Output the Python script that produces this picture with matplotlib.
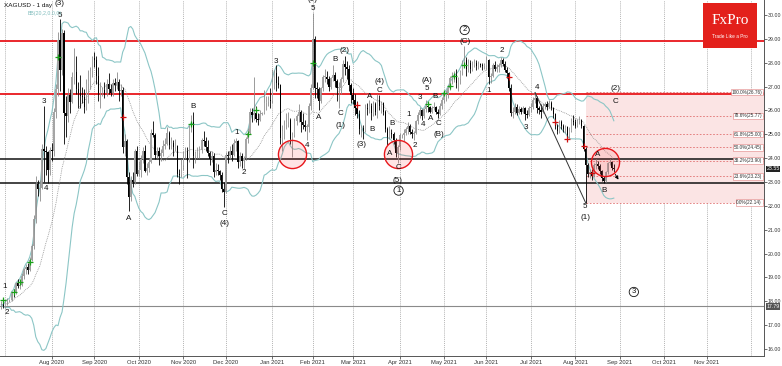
import numpy as np
import pandas as pd
import matplotlib
matplotlib.use("Agg")
import matplotlib.pyplot as plt
from matplotlib.patches import Rectangle

# ---------------- DATA (daily OHLC, XAGUSD) ----------------
jun_2020 = [(17.80, 18.00, 17.68, 17.85), (17.85, 18.10, 17.70, 17.80)]
jul_2020 = [
    (17.80, 18.05, 17.70, 17.95), (17.95, 18.15, 17.85, 18.02), (18.02, 18.10, 17.95, 18.05),
    (18.05, 18.45, 18.00, 18.40), (18.40, 18.50, 18.20, 18.35), (18.35, 18.80, 18.30, 18.75),
    (18.75, 18.95, 18.55, 18.62), (18.62, 18.82, 18.50, 18.70), (18.70, 19.20, 18.65, 19.05),
    (19.05, 19.40, 18.95, 19.35), (19.35, 19.55, 19.15, 19.45), (19.45, 19.60, 19.15, 19.30),
    (19.30, 19.85, 19.25, 19.75), (19.75, 20.40, 19.70, 20.30), (20.30, 21.60, 20.20, 21.45),
    (21.45, 23.25, 21.30, 22.90), (22.90, 23.10, 22.40, 22.70), (22.70, 23.10, 22.20, 22.75),
    (22.75, 24.60, 22.70, 24.40), (24.40, 26.20, 23.00, 24.30), (24.30, 24.50, 23.30, 24.25),
    (24.25, 24.30, 22.95, 23.50), (23.50, 24.45, 23.30, 24.35)]
aug_2020 = [
    (24.35, 24.65, 23.90, 24.30), (24.30, 26.10, 24.10, 25.95), (25.95, 27.10, 25.70, 26.90),
    (26.90, 29.30, 26.60, 28.95), (28.95, 29.85, 26.80, 27.70), (27.70, 29.40, 27.50, 29.25),
    (29.25, 29.35, 24.60, 25.90), (25.90, 26.60, 24.90, 25.75), (25.75, 26.95, 25.50, 26.65),
    (26.65, 26.90, 25.90, 26.35), (26.35, 27.60, 26.30, 27.40), (27.40, 28.60, 27.10, 27.60),
    (27.60, 28.30, 26.70, 26.90), (26.90, 27.20, 26.10, 26.75), (26.75, 27.50, 26.10, 26.60),
    (26.60, 27.00, 26.30, 26.55), (26.55, 26.90, 25.90, 26.15), (26.15, 27.30, 26.00, 27.10),
    (27.10, 27.70, 26.30, 27.25), (27.25, 27.80, 26.90, 27.65), (27.65, 28.30, 27.40, 28.20)]
sep_2020 = [
    (28.20, 28.45, 27.80, 28.10), (28.10, 28.30, 27.10, 27.45), (27.45, 27.80, 26.40, 26.75),
    (26.75, 27.20, 26.10, 26.75), (26.75, 27.00, 26.60, 26.85), (26.85, 27.20, 26.50, 26.75),
    (26.75, 27.30, 26.60, 27.10), (27.10, 27.55, 26.70, 26.90), (26.90, 27.10, 26.60, 26.75),
    (26.75, 27.30, 26.60, 27.15), (27.15, 27.35, 26.80, 27.05), (27.05, 27.60, 26.90, 27.20),
    (27.20, 27.30, 26.40, 26.80), (26.80, 27.10, 26.60, 26.85), (26.85, 27.00, 24.20, 24.45),
    (24.45, 25.00, 24.10, 24.70), (24.70, 24.80, 22.90, 23.20), (23.20, 23.40, 21.80, 22.35),
    (22.35, 23.25, 22.20, 23.10), (23.10, 23.40, 22.80, 23.00), (23.00, 24.40, 22.90, 24.30),
    (24.30, 24.50, 23.25, 23.35)]
oct_2020 = [
    (23.35, 23.90, 23.25, 23.50), (23.50, 24.15, 23.20, 23.95), (23.95, 24.45, 23.80, 24.30),
    (24.30, 24.55, 23.40, 23.45), (23.45, 23.80, 23.30, 23.60), (23.60, 24.00, 23.40, 23.85),
    (23.85, 25.20, 23.80, 25.05), (25.05, 25.55, 24.90, 24.95), (24.95, 25.05, 23.95, 24.15),
    (24.15, 24.45, 24.00, 24.30), (24.30, 24.45, 23.70, 24.10), (24.10, 24.40, 23.90, 24.20),
    (24.20, 24.75, 24.10, 24.50), (24.50, 24.85, 24.40, 24.60), (24.60, 25.30, 24.55, 25.05),
    (25.05, 25.15, 24.40, 24.55), (24.55, 24.90, 24.40, 24.65), (24.65, 24.75, 24.10, 24.45),
    (24.45, 24.80, 24.30, 24.50), (24.50, 24.55, 23.20, 23.35), (23.35, 23.55, 22.90, 23.30),
    (23.30, 23.95, 23.20, 23.70)]
nov_2020 = [
    (23.70, 24.30, 23.50, 24.05), (24.05, 24.45, 23.95, 24.30), (24.30, 24.45, 23.15, 23.90),
    (23.90, 25.40, 23.85, 25.25), (25.25, 25.80, 25.10, 25.50), (25.50, 25.95, 23.60, 24.10),
    (24.10, 24.30, 23.80, 24.20), (24.20, 24.45, 24.00, 24.20), (24.20, 24.50, 24.00, 24.35),
    (24.35, 24.85, 24.20, 24.75), (24.75, 25.15, 24.50, 24.70), (24.70, 24.90, 24.30, 24.45),
    (24.45, 24.75, 24.10, 24.20), (24.20, 24.30, 23.70, 23.95), (23.95, 24.30, 23.85, 24.10),
    (24.10, 24.20, 23.20, 23.40), (23.40, 23.80, 23.30, 23.50), (23.50, 23.75, 23.30, 23.45),
    (23.45, 23.50, 23.10, 23.30), (23.30, 23.40, 22.60, 22.70), (22.70, 23.00, 21.95, 22.60)]
dec_2020 = [
    (22.60, 24.25, 22.55, 24.15), (24.15, 24.30, 23.80, 24.10), (24.10, 24.50, 23.95, 24.30),
    (24.30, 24.60, 23.90, 24.15), (24.15, 24.80, 24.10, 24.65), (24.65, 24.85, 24.30, 24.70),
    (24.70, 24.75, 23.60, 23.85), (23.85, 24.25, 23.65, 24.10), (24.10, 24.20, 23.60, 23.90),
    (23.90, 24.10, 23.55, 24.00), (24.00, 24.90, 23.95, 24.80), (24.80, 25.25, 24.65, 25.05),
    (25.05, 26.10, 25.00, 25.95), (25.95, 26.10, 25.50, 25.80), (25.80, 27.40, 25.60, 25.90),
    (25.90, 26.20, 25.50, 25.65), (25.65, 25.90, 25.40, 25.60), (25.60, 26.00, 25.55, 25.85),
    (25.85, 25.95, 25.80, 25.90), (25.90, 26.85, 25.85, 26.30), (26.30, 26.60, 26.00, 26.35),
    (26.35, 26.60, 26.20, 26.45), (26.45, 26.95, 26.10, 26.40)]
jan_2021 = [
    (26.40, 27.75, 26.30, 27.20), (27.20, 27.70, 26.90, 27.55), (27.55, 27.90, 26.80, 27.15),
    (27.15, 27.45, 26.95, 27.05), (27.05, 27.10, 24.60, 24.85), (24.85, 25.40, 24.30, 25.15),
    (25.15, 25.60, 24.80, 25.40), (25.40, 25.90, 25.20, 25.50), (25.50, 25.95, 25.30, 25.60),
    (25.60, 25.70, 24.60, 24.80), (24.80, 25.10, 24.05, 24.95), (24.95, 25.70, 24.90, 25.55),
    (25.55, 25.85, 25.40, 25.75), (25.75, 26.25, 25.50, 25.95), (25.95, 26.00, 25.10, 25.50),
    (25.50, 25.90, 25.20, 25.40), (25.40, 25.60, 25.15, 25.30), (25.30, 25.45, 24.75, 25.30),
    (25.30, 26.30, 25.10, 26.20), (26.20, 27.10, 26.00, 26.95)]
feb_2021 = [
    (26.95, 30.07, 26.90, 29.00), (29.00, 29.10, 26.50, 26.95), (26.95, 27.20, 26.50, 26.90),
    (26.90, 27.00, 26.00, 26.40), (26.40, 27.00, 26.30, 26.95), (26.95, 27.50, 26.80, 27.40),
    (27.40, 27.75, 27.20, 27.40), (27.40, 27.65, 27.10, 27.30), (27.30, 27.45, 26.80, 27.00),
    (27.00, 27.40, 26.90, 27.35), (27.35, 27.90, 27.25, 27.50), (27.50, 27.60, 27.00, 27.25),
    (27.25, 27.30, 26.40, 26.95), (26.95, 27.20, 26.10, 26.95), (26.95, 27.40, 26.70, 27.30),
    (27.30, 28.10, 27.20, 27.95), (27.95, 28.30, 27.50, 27.80), (27.80, 28.05, 27.30, 27.75),
    (27.75, 27.90, 26.80, 27.05), (27.05, 27.15, 26.30, 26.65)]
mar_2021 = [
    (26.65, 26.95, 26.25, 26.45), (26.45, 26.70, 25.80, 26.10), (26.10, 26.40, 25.70, 25.85),
    (25.85, 26.00, 25.00, 25.20), (25.20, 25.40, 24.90, 25.25), (25.25, 25.40, 24.80, 25.15),
    (25.15, 26.25, 25.10, 26.10), (26.10, 26.30, 25.80, 26.05), (26.05, 26.45, 25.90, 26.20),
    (26.20, 26.30, 25.60, 25.90), (25.90, 26.40, 25.75, 26.25), (26.25, 26.35, 25.80, 25.95),
    (25.95, 26.70, 25.70, 26.45), (26.45, 26.65, 26.00, 26.20), (26.20, 26.40, 25.90, 26.30),
    (26.30, 26.35, 25.80, 25.95), (25.95, 26.00, 25.10, 25.20), (25.20, 25.30, 24.55, 24.90),
    (24.90, 25.35, 24.80, 25.05), (25.05, 25.20, 24.85, 25.00), (25.00, 25.10, 24.60, 24.75),
    (24.75, 24.85, 24.05, 24.20), (24.20, 24.55, 23.80, 24.45)]
apr_2021 = [
    (24.45, 25.05, 24.35, 24.95), (24.95, 25.00, 24.85, 24.95), (24.95, 25.20, 24.70, 25.05),
    (25.05, 25.30, 24.95, 25.20), (25.20, 25.50, 25.00, 25.35), (25.35, 25.45, 25.00, 25.10),
    (25.10, 25.20, 24.85, 25.00), (25.00, 25.15, 24.75, 25.05), (25.05, 25.60, 25.00, 25.55),
    (25.55, 25.95, 25.45, 25.80), (25.80, 26.15, 25.70, 26.00), (26.00, 26.05, 25.60, 25.75),
    (25.75, 26.10, 25.70, 26.05), (26.05, 26.45, 25.95, 26.20), (26.20, 26.30, 25.95, 26.15),
    (26.15, 26.20, 25.90, 25.95), (25.95, 26.20, 25.90, 26.10), (26.10, 26.35, 26.00, 26.15),
    (26.15, 26.20, 25.85, 25.95), (25.95, 26.05, 25.70, 25.85), (25.85, 26.30, 25.80, 26.20),
    (26.20, 26.55, 26.05, 26.45)]
may_2021 = [
    (26.45, 26.80, 26.30, 26.65), (26.65, 26.85, 26.40, 26.70), (26.70, 27.05, 26.50, 26.95),
    (26.95, 27.45, 26.85, 27.35), (27.35, 27.60, 27.10, 27.40), (27.40, 27.65, 27.20, 27.50),
    (27.50, 27.75, 26.95, 27.15), (27.15, 27.40, 26.80, 27.30), (27.30, 27.70, 27.10, 27.60),
    (27.60, 28.10, 27.50, 27.95), (27.95, 28.70, 27.80, 28.10), (28.10, 28.25, 27.45, 27.75),
    (27.75, 28.15, 27.60, 28.00), (28.00, 28.10, 27.55, 27.75), (27.75, 28.05, 27.65, 27.90),
    (27.90, 28.15, 27.80, 28.00), (28.00, 28.10, 27.70, 27.85), (27.85, 28.05, 27.75, 27.95),
    (27.95, 28.00, 27.80, 27.90), (27.90, 28.00, 27.70, 27.85), (27.85, 28.00, 27.75, 27.90)]
jun_2021 = [
    (27.90, 28.30, 27.75, 28.10), (28.10, 28.15, 27.10, 27.40), (27.40, 27.55, 27.15, 27.45),
    (27.45, 28.00, 27.40, 27.90), (27.90, 28.05, 27.65, 27.75), (27.75, 27.95, 27.60, 27.80),
    (27.80, 28.00, 27.60, 27.90), (27.90, 28.25, 27.80, 28.10), (28.10, 28.20, 27.85, 27.95),
    (27.95, 28.05, 27.60, 27.70), (27.70, 27.80, 27.35, 27.55), (27.55, 27.60, 26.80, 26.95),
    (26.95, 27.10, 25.75, 25.90), (25.90, 26.15, 25.70, 25.95), (25.95, 26.30, 25.85, 26.15),
    (26.15, 26.25, 25.80, 25.90), (25.90, 26.20, 25.85, 26.05), (26.05, 26.15, 25.85, 25.95),
    (25.95, 26.20, 25.90, 26.10), (26.10, 26.15, 25.60, 25.85), (25.85, 26.00, 25.70, 25.80),
    (25.80, 26.20, 25.75, 26.10)]
jul_2021 = [
    (26.10, 26.30, 25.95, 26.15), (26.15, 26.55, 26.05, 26.45), (26.45, 26.76, 26.30, 26.50),
    (26.50, 26.60, 25.90, 26.10), (26.10, 26.20, 25.85, 26.00), (26.00, 26.25, 25.70, 25.95),
    (25.95, 26.30, 25.90, 26.20), (26.20, 26.35, 26.05, 26.25), (26.25, 26.40, 26.00, 26.15),
    (26.15, 26.45, 26.10, 26.30), (26.30, 26.40, 26.00, 26.10), (26.10, 26.15, 25.70, 25.85),
    (25.85, 25.90, 25.20, 25.35), (25.35, 25.45, 25.00, 25.15), (25.15, 25.60, 25.05, 25.50),
    (25.50, 25.60, 25.20, 25.35), (25.35, 25.45, 25.10, 25.20), (25.20, 25.40, 25.05, 25.30),
    (25.30, 25.35, 24.75, 24.95), (24.95, 25.30, 24.85, 25.15), (25.15, 25.70, 25.10, 25.55),
    (25.55, 25.80, 25.40, 25.50)]
aug_2021 = [
    (25.50, 25.65, 25.25, 25.35), (25.35, 25.65, 25.30, 25.55), (25.55, 25.75, 25.45, 25.60),
    (25.60, 25.65, 25.25, 25.35), (25.35, 25.40, 24.30, 24.40), (24.40, 24.45, 22.14, 23.70),
    (23.70, 23.80, 23.20, 23.35), (23.35, 23.55, 23.15, 23.40), (23.40, 23.55, 23.10, 23.25),
    (23.25, 23.80, 23.20, 23.70), (23.70, 23.95, 23.55, 23.75), (23.75, 23.90, 23.55, 23.65),
    (23.65, 23.75, 23.35, 23.45), (23.45, 23.50, 23.05, 23.15), (23.15, 23.25, 22.95, 23.05),
    (23.05, 23.45, 23.00, 23.40), (23.40, 23.85, 23.35, 23.80), (23.80, 23.95, 23.70, 23.85),
    (23.85, 23.90, 23.50, 23.60), (23.60, 23.75, 23.40, 23.55)]

# horizontal levels
red_levels = [28.89, 26.67]
black_levels = [23.95, 22.97]
gray_level = 17.79
fib_start_bar = 289
fib_pcts = [100.0, 78.6, 61.8, 50.0, 38.2, 23.6, 0.0]
fib_prices = [26.76, 25.77, 25.00, 24.45, 23.90, 23.23, 22.14]

# signal markers (bar index, price)
green_idx = [1, 6, 9, 14, 28, 94, 122, 126, 154, 211, 219, 222, 224, 229]
green_px = [18.05, 18.39, 18.81, 19.65, 28.24, 25.43, 25.01, 26.02, 27.99, 26.27, 26.73, 27.02, 27.44, 27.90]
red_idx = [60, 176, 251, 274, 280, 288, 292]
red_px = [25.72, 26.23, 27.40, 25.51, 24.80, 24.51, 23.38]

# wave labels (text, bar index, price)
wave_labels = [
    ("1", 1.5, 18.64), ("2", 2.5, 17.55), ("3", 20.8, 26.39), ("4", 22.3, 22.71),
    ("5", 28.7, 29.97), ("(3)", 28.7, 30.47), ("A", 62.9, 21.45), ("B", 95.0, 26.18),
    ("C", 110.4, 21.70), ("(4)", 110.4, 21.28), ("1", 116.3, 25.09), ("2", 119.8, 23.38),
    ("3", 135.6, 28.07), ("4", 151.0, 24.51), ("(5)", 154.0, 30.66), ("5", 154.0, 30.27),
    ("A", 156.9, 25.72), ("B", 164.9, 28.15), ("(2)", 169.8, 28.49), ("C", 167.8, 25.85),
    ("(1)", 167.8, 25.35), ("(3)", 178.2, 24.59), ("A", 182.2, 26.60), ("B", 183.2, 25.22),
    ("(4)", 187.1, 27.23), ("C", 187.1, 26.85), ("B", 193.1, 25.47), ("A", 192.1, 24.21),
    ("C", 196.5, 23.59), ("(5)", 196.0, 23.08), ("1", 201.5, 25.81), ("2", 204.5, 24.51),
    ("3", 206.9, 26.52), ("4", 208.4, 25.39), ("5", 210.4, 26.90), ("(A)", 210.4, 27.27),
    ("A", 212.4, 25.68), ("B", 214.4, 26.60), ("C", 216.3, 25.47), ("(B)", 216.3, 25.01),
    ("(C)", 229.2, 28.87), ("1", 241.1, 26.85), ("2", 247.5, 28.53), ("3", 259.4, 25.30),
    ("4", 264.9, 26.98), ("(2)", 304.0, 26.92), ("C", 304.0, 26.39), ("A", 295.0, 24.17),
    ("B", 298.0, 22.66), ("5", 288.6, 21.99), ("(1)", 289.1, 21.53)]
circled_labels = [("1", 196.5, 22.64), ("2", 229.2, 29.37), ("3", 312.9, 18.39)]
circle_idx = [143.6, 196.0, 298.5]
circle_px = [24.17, 24.17, 23.84]
trend_idx = [264, 289]
trend_px = [26.75, 22.14]

# ---------------- BUILD ----------------
bars = (jun_2020 + jul_2020 + aug_2020 + sep_2020 + oct_2020 + nov_2020 + dec_2020 +
        jan_2021 + feb_2021 + mar_2021 + apr_2021 + may_2021 + jun_2021 + jul_2021 + aug_2021)
o = np.array([b[0] for b in bars]); h = np.array([b[1] for b in bars])
l = np.array([b[2] for b in bars]); c = np.array([b[3] for b in bars])
n = len(bars)
idx = np.arange(n)

dates = pd.bdate_range("2020-06-29", "2021-12-31")
dates = dates[dates != pd.Timestamp("2021-01-01")]

W, H = 782, 366
fig = plt.figure(figsize=(W / 100, H / 100), dpi=100)
ax = fig.add_axes([0, 10 / H, 764 / W, 356 / H])
XMIN, XMAX = -0.7, 377.3
YMIN, YMAX = 15.707, 30.627
ax.set_xlim(XMIN, XMAX)
ax.set_ylim(YMIN, YMAX)

LAB = ["Liberation Sans", "DejaVu Sans"]

# month grid
for k in range(1, len(dates)):
    if dates[k].month != dates[k - 1].month and k < XMAX:
        ax.axvline(k, color="#9a9a9a", lw=0.5, ls=(0, (1.5, 1.5)), zorder=0)
tick_pos, tick_lab = [], []
for k in range(1, len(dates)):
    if dates[k].month != dates[k - 1].month and pd.Timestamp("2020-08-01") <= dates[k] <= pd.Timestamp("2021-11-30"):
        tick_pos.append(k)
        tick_lab.append(dates[k].strftime("%b %Y"))
ax.set_xticks(tick_pos)
ax.set_xticklabels(tick_lab, fontsize=4.2, color="#333333", family=LAB)
ax.tick_params(axis="x", length=2, width=0.5, pad=1, colors="#333333")

# fib box
ax.add_patch(Rectangle((fib_start_bar, fib_prices[-1]), XMAX - fib_start_bar,
                       fib_prices[0] - fib_prices[-1], facecolor="#fbe4e4", edgecolor="none", zorder=0.5))
for pct, pr in zip(fib_pcts, fib_prices):
    ax.plot([fib_start_bar, XMAX], [pr, pr], color="#e07070", lw=0.6, ls=(0, (2, 2)), zorder=1)
    ax.text(XMAX - 1, pr, f"{pct:.1f}%({pr:.2f})", fontsize=3.4, ha="right", va="center",
            color="#333333", family=LAB, zorder=6,
            bbox=dict(boxstyle="square,pad=0.15", fc="white", ec="#e08080", lw=0.4))

# horizontal lines
for lv in red_levels:
    ax.axhline(lv, color="#e8161b", lw=1.3, zorder=2)
for lv in black_levels:
    ax.axhline(lv, color="#111111", lw=1.1, zorder=2)
ax.axhline(gray_level, color="#8a8a8a", lw=0.8, zorder=2)

# Bollinger bands
s = pd.Series(c)
mid = s.rolling(20, min_periods=1).mean()
sd = s.rolling(20, min_periods=1).std(ddof=0)
ax.plot(idx, mid + 2 * sd, color="#8cc6c6", lw=0.8, zorder=2.5)
ax.plot(idx, mid - 2 * sd, color="#8cc6c6", lw=0.8, zorder=2.5)
ax.plot(idx, mid, color="#909090", lw=0.6, ls=(0, (1, 1.2)), zorder=2.5)

# candles
up = c >= o
ax.vlines(idx, l, h, colors=np.where(up, "#8a8a8a", "#000000"), lw=0.6, zorder=3)
ax.bar(idx, np.maximum(np.abs(c - o), 0.03), bottom=np.minimum(o, c), width=0.65,
       color=np.where(up, "#a5a5a5", "#000000"), edgecolor="none", zorder=4)

# signal markers
ax.scatter(green_idx, green_px, marker="+", s=14, color="#1aa01a", linewidths=0.9, zorder=5)
ax.scatter(red_idx, red_px, marker="+", s=14, color="#d01010", linewidths=0.9, zorder=5)

# trendline + arrow
ax.plot(trend_idx, trend_px, color="#333333", lw=0.7, zorder=5)
ax.annotate("", xy=(306.0, 23.0), xytext=(303.0, 23.42),
            arrowprops=dict(arrowstyle="-|>", color="black", lw=0.6, mutation_scale=5), zorder=6)

# red circles
ax.scatter(circle_idx, circle_px, s=410, facecolors=(1, 0.2, 0.2, 0.13),
           edgecolors="#e8161b", linewidths=1.0, zorder=6)

# wave labels
for t, x, y in wave_labels:
    ax.text(x, y, t, fontsize=5.8, ha="center", va="center", color="#111111", family=LAB,
            zorder=7, clip_on=False)
for t, x, y in circled_labels:
    ax.text(x, y, t, fontsize=5.5, ha="center", va="center", color="#111111", family=LAB, zorder=7,
            bbox=dict(boxstyle="circle,pad=0.15", fc="none", ec="#111111", lw=0.6))

# axes styling
for side in ["left", "top"]:
    ax.spines[side].set_visible(False)
for side in ["right", "bottom"]:
    ax.spines[side].set_color("#555555")
    ax.spines[side].set_linewidth(0.7)
ax.yaxis.tick_right()
ax.set_yticks(np.arange(16, 31))
ax.set_yticklabels([f"{v:.2f}" for v in np.arange(16, 31)], fontsize=3.8, color="#333333", family=LAB)
ax.tick_params(axis="y", length=2, width=0.5, pad=0.8, colors="#333333")

# right-axis price tags
ax.text(1.003, gray_level, "17.79", transform=ax.get_yaxis_transform(), fontsize=3.8,
        va="center", ha="left", color="white", family=LAB,
        bbox=dict(boxstyle="square,pad=0.15", fc="#555555", ec="none"))
ax.text(1.003, c[-1], f"{c[-1]:.2f}", transform=ax.get_yaxis_transform(), fontsize=3.8,
        va="center", ha="left", color="white", family=LAB,
        bbox=dict(boxstyle="square,pad=0.15", fc="#222222", ec="none"))

# header
fig.text(4 / W, 1 - 6 / H, "XAGUSD - 1 day", fontsize=4.6, va="center", ha="left", color="#111111", family=LAB)
fig.text(28 / W, 1 - 13 / H, "BB(20,2,0.0,0)", fontsize=3.8, va="center", ha="left", color="#7fbcbc", family=LAB)

# logo
fig.patches.append(Rectangle((703 / W, 1 - 48 / H), 54 / W, 45 / H, transform=fig.transFigure,
                             facecolor="#e3201b", edgecolor="none", zorder=10))
fig.text(730 / W, 1 - 21 / H, "FxPro", fontsize=11, color="white", ha="center", va="center",
         family=["Liberation Serif", "DejaVu Serif"], zorder=11)
fig.text(730 / W, 1 - 36 / H, "Trade Like a Pro", fontsize=3.4, color="white", ha="center",
         va="center", family=LAB, zorder=11)

fig.savefig("out.png", dpi=100, facecolor="white")
